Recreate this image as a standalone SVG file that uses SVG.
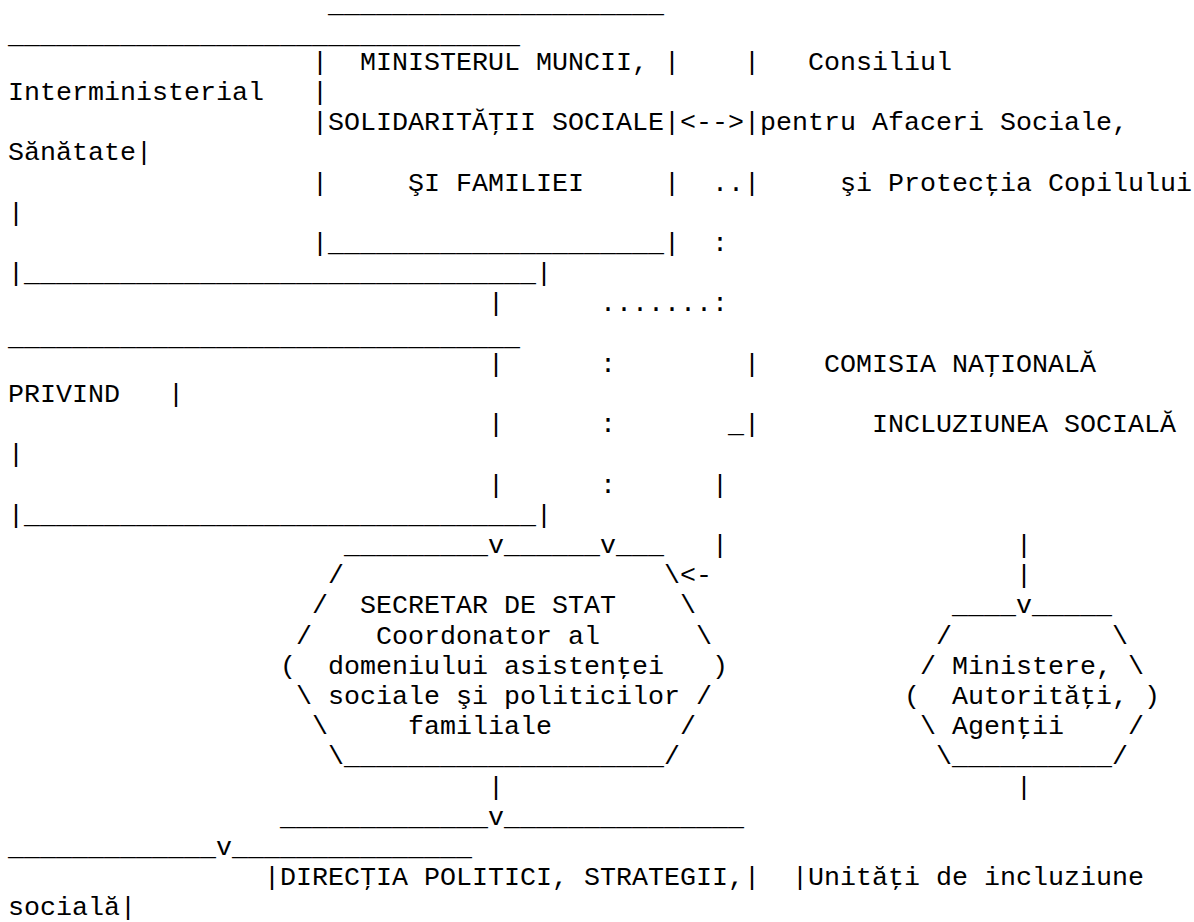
<svg xmlns="http://www.w3.org/2000/svg" width="1194" height="922" viewBox="0 0 1194 922">
<style>
.t{font-family:"Liberation Mono","DejaVu Sans Mono",monospace;font-size:26.67px;fill:#000}
</style>
<rect x="0" y="0" width="1194" height="922" fill="#fff"/>
<g id="connectors" class="t">
<text x="680" y="130.1">&lt;--&gt;</text>
<text x="712" y="190.5">..</text>
<text x="712" y="250.9">:</text>
<text x="488" y="311.3">|</text>
<text x="600" y="311.3">.......:</text>
<text x="488" y="371.7">|</text>
<text x="600" y="371.7">:</text>
<text x="488" y="432.1">|</text>
<text x="600" y="432.1">:</text>
<text x="728" y="432.1">_</text>
<text x="488" y="492.5">|</text>
<text x="600" y="492.5">:</text>
<text x="712" y="492.5">|</text>
<text x="488" y="552.9">v</text>
<text x="600" y="552.9">v</text>
<text x="712" y="552.9">|</text>
<text x="1016" y="552.9">|</text>
<text x="680" y="583.1">&lt;-</text>
<text x="1016" y="583.1">|</text>
<text x="1016" y="613.3">v</text>
<text x="488" y="794.5">|</text>
<text x="1016" y="794.5">|</text>
<text x="488" y="824.7">v</text>
<text x="216" y="854.9">v</text>
</g>
<g id="node-ministerul" class="t">
<text x="328" y="12.3">_____________________</text>
<text x="312" y="69.7">|</text>
<text x="360" y="69.7">MINISTERUL</text>
<text x="536" y="69.7">MUNCII,</text>
<text x="664" y="69.7">|</text>
<text x="312" y="130.1">|SOLIDARITĂŢII</text>
<text x="552" y="130.1">SOCIALE|</text>
<text x="312" y="190.5">|</text>
<text x="408" y="190.5">ŞI</text>
<text x="456" y="190.5">FAMILIEI</text>
<text x="664" y="190.5">|</text>
<text x="312" y="250.9">|_____________________|</text>
</g>
<g id="node-consiliul" class="t">
<text x="8" y="42.5">________________________________</text>
<text x="744" y="69.7">|</text>
<text x="808" y="69.7">Consiliul</text>
<text x="8" y="99.9">Interministerial</text>
<text x="312" y="99.9">|</text>
<text x="744" y="130.1">|pentru</text>
<text x="872" y="130.1">Afaceri</text>
<text x="1000" y="130.1">Sociale,</text>
<text x="8" y="160.3">Sănătate|</text>
<text x="744" y="190.5">|</text>
<text x="840" y="190.5">şi</text>
<text x="888" y="190.5">Protecţia</text>
<text x="1048" y="190.5">Copilului</text>
<text x="8" y="220.7">|</text>
<text x="8" y="281.1">|________________________________|</text>
</g>
<g id="node-comisia" class="t">
<text x="8" y="344.5">________________________________</text>
<text x="744" y="371.7">|</text>
<text x="824" y="371.7">COMISIA</text>
<text x="952" y="371.7">NAŢIONALĂ</text>
<text x="8" y="401.9">PRIVIND</text>
<text x="168" y="401.9">|</text>
<text x="744" y="432.1">|</text>
<text x="872" y="432.1">INCLUZIUNEA</text>
<text x="1064" y="432.1">SOCIALĂ</text>
<text x="8" y="462.3">|</text>
<text x="8" y="522.7">|________________________________|</text>
</g>
<g id="node-secretar" class="t">
<text x="344" y="552.9">_________</text>
<text x="504" y="552.9">______</text>
<text x="616" y="552.9">___</text>
<text x="328" y="583.1">/</text>
<text x="664" y="583.1">\</text>
<text x="312" y="613.3">/</text>
<text x="360" y="613.3">SECRETAR</text>
<text x="504" y="613.3">DE</text>
<text x="552" y="613.3">STAT</text>
<text x="680" y="613.3">\</text>
<text x="296" y="643.5">/</text>
<text x="376" y="643.5">Coordonator</text>
<text x="568" y="643.5">al</text>
<text x="696" y="643.5">\</text>
<text x="280" y="673.7">(</text>
<text x="328" y="673.7">domeniului</text>
<text x="504" y="673.7">asistenţei</text>
<text x="712" y="673.7">)</text>
<text x="296" y="703.9">\</text>
<text x="328" y="703.9">sociale</text>
<text x="456" y="703.9">şi</text>
<text x="504" y="703.9">politicilor</text>
<text x="696" y="703.9">/</text>
<text x="312" y="734.1">\</text>
<text x="408" y="734.1">familiale</text>
<text x="680" y="734.1">/</text>
<text x="328" y="764.3">\____________________/</text>
</g>
<g id="node-ministere" class="t">
<text x="952" y="613.3">____</text>
<text x="1032" y="613.3">_____</text>
<text x="936" y="643.5">/</text>
<text x="1112" y="643.5">\</text>
<text x="920" y="673.7">/</text>
<text x="952" y="673.7">Ministere,</text>
<text x="1128" y="673.7">\</text>
<text x="904" y="703.9">(</text>
<text x="952" y="703.9">Autorităţi,</text>
<text x="1144" y="703.9">)</text>
<text x="920" y="734.1">\</text>
<text x="952" y="734.1">Agenţii</text>
<text x="1128" y="734.1">/</text>
<text x="936" y="764.3">\__________/</text>
</g>
<g id="node-directia" class="t">
<text x="280" y="824.7">_____________</text>
<text x="504" y="824.7">_______________</text>
<text x="264" y="885.1">|DIRECŢIA</text>
<text x="424" y="885.1">POLITICI,</text>
<text x="584" y="885.1">STRATEGII,|</text>
</g>
<g id="node-unitati" class="t">
<text x="8" y="854.9">_____________</text>
<text x="232" y="854.9">_______________</text>
<text x="792" y="885.1">|Unităţi</text>
<text x="936" y="885.1">de</text>
<text x="984" y="885.1">incluziune</text>
<text x="8" y="915.3">socială|</text>
</g>
</svg>
